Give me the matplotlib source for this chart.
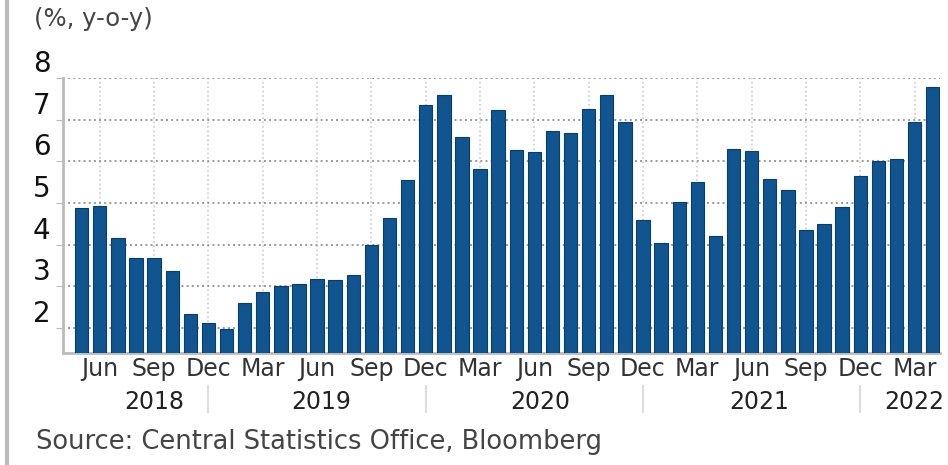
import matplotlib.pyplot as plt
from matplotlib.lines import Line2D

plt.rcParams['font.family'] = ['DejaVu Sans']

# monthly inflation, May 2018 - Apr 2022
months = ['May', 'Jun', 'Jul', 'Aug', 'Sep', 'Oct', 'Nov', 'Dec',
          'Jan', 'Feb', 'Mar', 'Apr', 'May', 'Jun', 'Jul', 'Aug', 'Sep', 'Oct', 'Nov', 'Dec',
          'Jan', 'Feb', 'Mar', 'Apr', 'May', 'Jun', 'Jul', 'Aug', 'Sep', 'Oct', 'Nov', 'Dec',
          'Jan', 'Feb', 'Mar', 'Apr', 'May', 'Jun', 'Jul', 'Aug', 'Sep', 'Oct', 'Nov', 'Dec',
          'Jan', 'Feb', 'Mar', 'Apr']
values = [4.87, 4.93, 4.17, 3.69, 3.69, 3.37, 2.32, 2.11,
          1.96, 2.59, 2.85, 3.00, 3.05, 3.17, 3.15, 3.28, 3.99, 4.63, 5.55, 7.37,
          7.60, 6.60, 5.83, 7.24, 6.28, 6.23, 6.73, 6.69, 7.26, 7.61, 6.94, 4.59,
          4.05, 5.03, 5.51, 4.21, 6.30, 6.26, 5.58, 5.31, 4.35, 4.49, 4.90, 5.66,
          6.02, 6.06, 6.94, 7.78]
shown = ['Mar', 'Jun', 'Sep', 'Dec']
years = ['2018', '2019', '2020', '2021', '2022']
year_pos = [4, 13.2, 25.3, 37.4, 46]
year_breaks = [7, 19, 31, 43]

fig = plt.figure(figsize=(9.48, 4.65), dpi=100)
ax = fig.add_axes([0.0665, 0.2415, 0.925, 0.590])

x = list(range(len(values)))
ax.bar(x, values, width=0.74, color='#10558f', edgecolor='#0b3d6b', linewidth=0.8, zorder=3)

ax.set_xlim(-1.03, 47.4)
ax.set_ylim(1.4, 8)
ax.set_yticks(range(2, 9))

ticks = [i for i, m in enumerate(months) if m in shown]
ax.set_xticks(ticks)
ax.set_xticklabels([months[i] for i in ticks], fontsize=17, color='#333333')
ax.tick_params(axis='x', length=0, pad=3)
ax.tick_params(axis='y', length=5, color='#bbbbbb', labelsize=20, labelcolor='#111111', pad=4)
for lab in ax.get_yticklabels():
    lab.set_va('bottom')

ax.grid(axis='y', linestyle=':', color='#999999', linewidth=1.4, zorder=0)
ax.grid(axis='x', linestyle=':', color='#cccccc', linewidth=1.2, zorder=0)

for s in ['top', 'right']:
    ax.spines[s].set_visible(False)
ax.spines['left'].set_color('#bbbbbb')
ax.spines['left'].set_linewidth(2)
ax.spines['bottom'].set_color('#bbbbbb')
ax.spines['bottom'].set_linewidth(2)

tr = ax.get_xaxis_transform()
for yr, p in zip(years, year_pos):
    ax.text(p, -0.18, yr, transform=tr, ha='center', va='center', fontsize=17, color='#222222')
for b in year_breaks:
    ax.plot([b, b], [-0.12, -0.215], transform=tr, color='#dddddd', linewidth=1.5, clip_on=False)

fig.text(0.036, 0.96, '(%, y-o-y)', fontsize=17.5, color='#444444', va='center')
fig.text(0.038, 0.05, 'Source: Central Statistics Office, Bloomberg', fontsize=18.5,
         color='#444444', va='center')
fig.add_artist(Line2D([0.007, 0.007], [0, 1], transform=fig.transFigure, color='#bbbbbb', linewidth=3))

fig.savefig('out.png', dpi=100)
